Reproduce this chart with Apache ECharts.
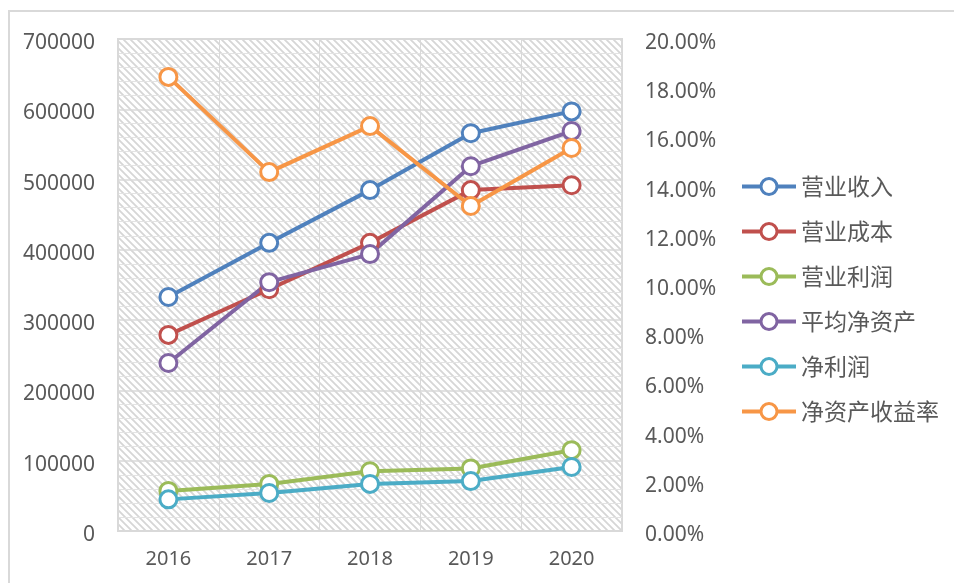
<!DOCTYPE html>
<html>
<head>
<meta charset="utf-8">
<script src="https://cdn.jsdelivr.net/npm/echarts@6/dist/echarts.min.js"></script>
<style>
  html, body { margin: 0; padding: 0; background: #fff; }
  #main { width: 954px; height: 583px; }
  #frame { position: absolute; left: 8px; top: 10px; width: 960px; height: 600px; border: 2px solid #d9d9d9; box-sizing: border-box; pointer-events: none; }
</style>
</head>
<body>
<div id="frame"></div>
<div id="main"></div>
<script>
const years = ['2016', '2017', '2018', '2019', '2020']
const revenue = [333000, 410000, 485000, 566000, 597000]
const cost = [279000, 344000, 410000, 485000, 492000]
const opProfit = [57000, 67000, 85000, 89000, 115000]
const avgAssets = [239000, 354000, 394000, 519000, 569000]
const netProfit = [45000, 54000, 67000, 71000, 91000]
const roe = [18.46, 14.59, 16.46, 13.21, 15.57]

const names = ['营业收入', '营业成本', '营业利润', '平均净资产', '净利润', '净资产收益率']
const colors = ['#4F81BD', '#C0504D', '#9BBB59', '#8064A2', '#4BACC6', '#F79646']

// hatch pattern for the plot area
function makeHatch() {
  const c = document.createElement('canvas')
  c.width = 7
  c.height = 7
  const ctx = c.getContext('2d')
  ctx.fillStyle = '#ffffff'
  ctx.fillRect(0, 0, 7, 7)
  ctx.strokeStyle = '#d6d6d6'
  ctx.lineWidth = 1.8
  ctx.beginPath()
  ctx.moveTo(-1, -1); ctx.lineTo(8, 8)
  ctx.moveTo(-8, -1); ctx.lineTo(1, 8)
  ctx.moveTo(6, -1); ctx.lineTo(15, 8)
  ctx.stroke()
  return c
}

const chart = echarts.init(document.getElementById('main'))

function lineSeries(i, data, yIdx) {
  return {
    name: names[i],
    type: 'line',
    yAxisIndex: yIdx,
    data: data,
    symbol: 'circle',
    symbolSize: 17,
    lineStyle: { color: colors[i], width: 4 },
    itemStyle: { color: '#ffffff', borderColor: colors[i], borderWidth: 3 },
    emphasis: { disabled: true },
  }
}

const option = {
  animation: false,
  textStyle: { fontFamily: 'Noto Sans' },
  grid: {
    left: 118,
    right: 332,
    top: 39,
    bottom: 52,
    show: true,
    borderColor: '#d9d9d9',
    borderWidth: 2,
    backgroundColor: { image: makeHatch(), repeat: 'repeat' },
  },
  legend: {
    orient: 'vertical',
    left: 735,
    top: 170,
    itemWidth: 54,
    itemHeight: 20,
    itemGap: 22,
    data: names.map((n, i) => ({
      name: n,
      itemStyle: { color: '#ffffff', borderColor: colors[i], borderWidth: 3 },
      lineStyle: { color: colors[i], width: 4 },
    })),
    textStyle: {
      fontFamily: 'Noto Sans CJK SC',
      fontSize: 23,
      lineHeight: 23,
      color: '#595959',
    },
  },
  xAxis: {
    type: 'category',
    data: years,
    boundaryGap: true,
    axisLine: { show: false },
    axisTick: { show: false },
    axisLabel: { fontSize: 20, color: '#595959', margin: 18 },
    splitLine: { show: true, lineStyle: { color: '#d9d9d9', width: 1 } },
  },
  yAxis: [
    {
      type: 'value',
      min: 0,
      max: 700000,
      interval: 100000,
      axisLine: { show: false },
      axisTick: { show: false },
      axisLabel: {
        fontSize: 21,
        color: '#595959',
        margin: 23,
        lineHeight: 30,
        verticalAlign: 'top',
        padding: [-11, 0, 0, 0],
        formatter: v => String(v),
      },
      splitLine: { show: true, lineStyle: { color: '#d9d9d9', width: 1.5 } },
      minorTick: { show: false, splitNumber: 5 },
      minorSplitLine: { show: true, lineStyle: { color: '#e3e3e3', width: 1 } },
    },
    {
      type: 'value',
      min: 0,
      max: 20,
      interval: 2,
      axisLine: { show: false },
      axisTick: { show: false },
      axisLabel: {
        fontSize: 21,
        color: '#595959',
        margin: 23,
        lineHeight: 30,
        verticalAlign: 'top',
        padding: [-11, 0, 0, 0],
        formatter: v => v.toFixed(2) + '%',
      },
      splitLine: { show: false },
    },
  ],
  series: [
    lineSeries(0, revenue, 0),
    lineSeries(1, cost, 0),
    lineSeries(2, opProfit, 0),
    lineSeries(3, avgAssets, 0),
    lineSeries(4, netProfit, 0),
    lineSeries(5, roe, 1),
  ],
}
chart.setOption(option)
</script>
</body>
</html>
